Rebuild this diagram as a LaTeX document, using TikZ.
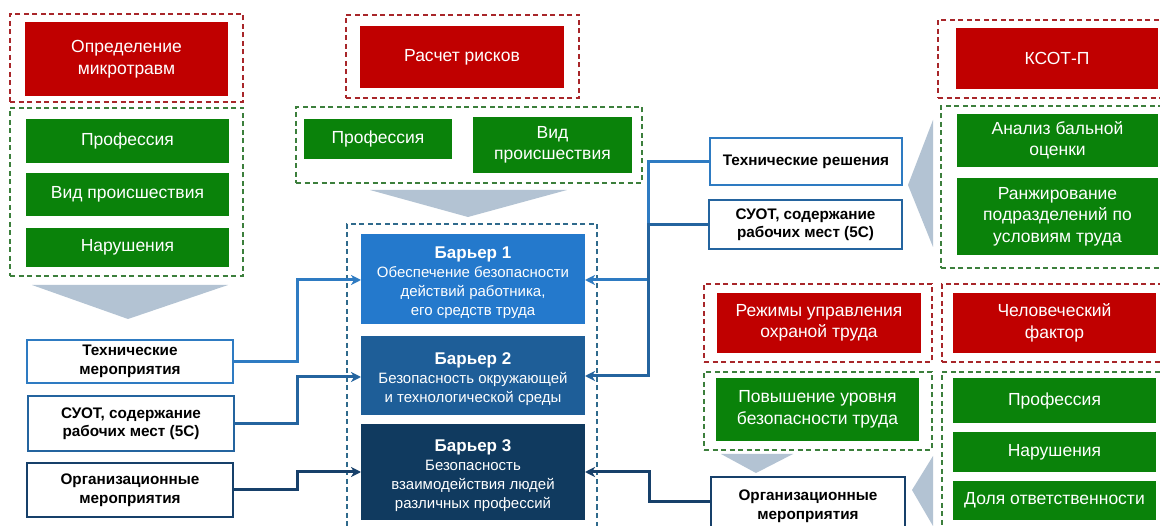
\documentclass[tikz,border=0pt]{standalone}
\usepackage{fontspec}
\setmainfont{Liberation Sans}
\usetikzlibrary{arrows.meta}
\definecolor{cred}{HTML}{C00000}
\definecolor{cgreen}{HTML}{0A820A}
\definecolor{credline}{HTML}{A8262A}
\definecolor{cgreenline}{HTML}{3C7F3C}
\definecolor{cblueline}{HTML}{2F6A8C}
\definecolor{cbarA}{HTML}{2479CC}
\definecolor{cbarB}{HTML}{1E5E98}
\definecolor{cbarC}{HTML}{103A5F}
\definecolor{clA}{HTML}{2E7BC2}
\definecolor{clB}{HTML}{24649F}
\definecolor{clC}{HTML}{17406A}
\definecolor{ctri}{HTML}{B3C3D3}
\newcommand\bx[7]{\node[#1, minimum width=#5-#3, minimum height=#6-#4] (#2) at ({(#3+#5)/2},{(#4+#6)/2}) {#7};}
\newcommand\bt[2]{\node[barrier] (#1t) at ([yshift=-4pt]#1.center) {#2};}
\begin{document}
\begin{tikzpicture}[x=1pt,y=-1pt,
  every node/.style={inner sep=0pt,outer sep=0pt,align=center},
  redbox/.style={fill=cred,text=white,font=\fontsize{17.5}{21.5}\selectfont},
  greenbox/.style={fill=cgreen,text=white,font=\fontsize{17.5}{21.5}\selectfont},
  redframe/.style={draw=credline,line width=1.6pt,dash pattern=on 5pt off 3.5pt},
  greenframe/.style={draw=cgreenline,line width=1.6pt,dash pattern=on 5pt off 3.5pt},
  blueframe/.style={draw=cblueline,line width=1.6pt,dash pattern=on 5pt off 3.5pt},
  barrier/.style={text=white,font=\fontsize{15}{19}\selectfont},
  wbox/.style={fill=white,line width=2.8pt,font=\fontsize{15.3}{18.5}\selectfont\bfseries},
  conn/.style={line width=3pt,-{Stealth[length=10pt,width=10pt,inset=3pt]}},
  tri/.style={fill=ctri}]
\clip (0,0) rectangle (1160,526);
\fill[white] (0,0) rectangle (1160,526);
% ---------- left column ----------
\bx{redframe}{f1}{10}{14}{243}{102}{}
\bx{redbox}{r1}{25}{22}{228}{96}{Определение\\микротравм}
\bx{greenframe}{g1}{10}{108}{243}{276}{}
\bx{greenbox}{g1a}{26}{119}{229}{163}{Профессия}
\bx{greenbox}{g1b}{26}{173}{229}{216}{Вид происшествия}
\bx{greenbox}{g1c}{26}{228}{229}{267}{Нарушения}
\fill[tri] (32,285) -- (228,285) -- (128,319) -- cycle;
\bx{wbox,draw=clA}{w1}{27}{340}{233}{383}{Технические\\мероприятия}
\bx{wbox,draw=clB}{w2}{28}{396}{234}{451}{СУОТ, содержание\\рабочих мест (5С)}
\bx{wbox,draw=clC}{w3}{27}{463}{233}{517}{Организационные\\мероприятия}
% ---------- middle ----------
\bx{redframe}{f2}{346}{15}{579}{98}{}
\bx{redbox}{r2}{360}{26}{564}{88}{Расчет рисков}
\bx{greenframe}{g2}{296}{107}{642}{183}{}
\bx{greenbox}{g2a}{304}{119}{452}{159}{Профессия}
\bx{greenbox}{g2b}{473}{117}{632}{173}{Вид\\происшествия}
\fill[tri] (370,190) -- (567,190) -- (468,217) -- cycle;
\bx{blueframe}{bf}{347}{224}{597}{540}{}
\bx{fill=cbarA}{b1}{361}{234}{585}{324}{}
\bx{fill=cbarB}{b2}{361}{336}{585}{415}{}
\bx{fill=cbarC}{b3}{361}{424}{585}{520}{}
\bt{b1}{{\fontsize{17}{21}\selectfont\bfseries Барьер 1}\\Обеспечение безопасности\\действий работника,\\его средств труда}
\bt{b2}{{\fontsize{17}{21}\selectfont\bfseries Барьер 2}\\Безопасность окружающей\\и технологической среды}
\bt{b3}{{\fontsize{17}{21}\selectfont\bfseries Барьер 3}\\Безопасность\\взаимодействия людей\\различных профессий}
% ---------- right upper ----------
\bx{wbox,draw=clA}{tr}{710}{138}{902}{185}{Технические решения}
\bx{wbox,draw=clB}{sr}{709}{200}{902}{249}{СУОТ, содержание\\рабочих мест (5С)}
\fill[tri] (933,120) -- (933,247) -- (908,185) -- cycle;
\bx{redframe}{f3}{938}{20}{1175}{98}{}
\bx{redbox}{r3}{956}{28}{1158}{89}{КСОТ-П}
\bx{greenframe}{g3}{941}{106}{1175}{268}{}
\bx{greenbox}{g3a}{957}{114}{1158}{167}{Анализ бальной\\оценки}
\bx{greenbox}{g3b}{957}{178}{1158}{255}{Ранжирование\\подразделений по\\условиям труда}
% ---------- right lower ----------
\bx{redframe}{f4}{704}{284}{932}{362}{}
\bx{redbox}{r4}{717}{293}{921}{353}{Режимы управления\\охраной труда}
\bx{redframe}{f5}{942}{284}{1175}{362}{}
\bx{redbox}{r5}{953}{293}{1156}{353}{Человеческий\\фактор}
\bx{greenframe}{g4}{704}{372}{932}{450}{}
\bx{greenbox}{g4a}{716}{378}{919}{441}{Повышение уровня\\безопасности труда}
\bx{greenframe}{g5}{942}{372}{1175}{540}{}
\bx{greenbox}{g5a}{953}{378}{1156}{423}{Профессия}
\bx{greenbox}{g5b}{953}{432}{1156}{472}{Нарушения}
\bx{greenbox}{g5c}{953}{481}{1156}{520}{Доля ответственности}
\fill[tri] (721,454) -- (793,454) -- (756,473) -- cycle;
\fill[tri] (933,456) -- (933,526) -- (912,490) -- cycle;
\node[wbox,draw=clC,minimum width=194,minimum height=58,anchor=north west] (orr) at (711,477) {Организационные\\мероприятия};
% ---------- connectors ----------
\draw[conn,draw=clA] (w1.east) -| (297,280) -- (b1.west |- 0,280);
\draw[conn,draw=clB] (w2.east) -| (297,377) -- (b2.west |- 0,377);
\draw[conn,draw=clC] (w3.east) -| (297,472) -- (b3.west |- 0,472);
\draw[conn,draw=clA] (tr.west) -| (648,280) -- (b1.east |- 0,280);
\draw[conn,draw=clB] (sr.west) -| (648,376) -- (b2.east |- 0,376);
\draw[conn,draw=clC] (orr.west |- 0,502) -| (649,472) -- (b3.east |- 0,472);
\end{tikzpicture}
\end{document}
